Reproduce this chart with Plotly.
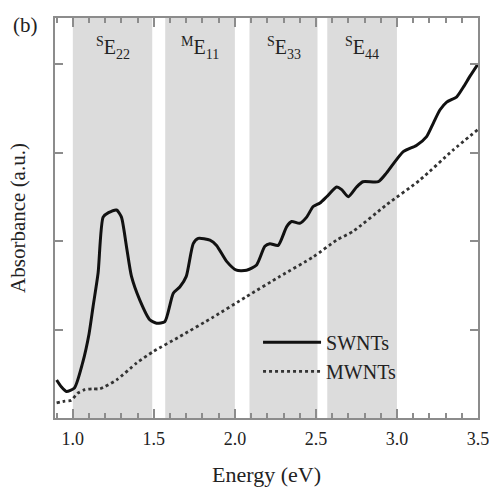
import plotly.graph_objects as go

# SWNT absorbance (a.u.)
swnt_x = [0.90, 0.93, 0.96, 1.01, 1.06, 1.10, 1.125, 1.156, 1.187, 1.22, 1.27, 1.30, 1.33, 1.362,
          1.414, 1.475, 1.517, 1.568, 1.62, 1.66, 1.70, 1.743, 1.774, 1.846, 1.887, 1.949, 2.01,
          2.072, 2.134, 2.185, 2.216, 2.267, 2.319, 2.35, 2.40, 2.443, 2.483, 2.525, 2.566, 2.628,
          2.659, 2.70, 2.751, 2.79, 2.885, 2.936, 3.039, 3.12, 3.183, 3.224, 3.265, 3.307, 3.369,
          3.41, 3.45, 3.50]
swnt_y = [0.43, 0.35, 0.30, 0.34, 0.62, 0.95, 1.26, 1.64, 2.27, 2.32, 2.35, 2.27, 1.95, 1.60,
          1.33, 1.11, 1.07, 1.09, 1.41, 1.48, 1.60, 1.97, 2.03, 2.01, 1.95, 1.77, 1.67,
          1.67, 1.73, 1.94, 1.97, 1.95, 2.16, 2.22, 2.20, 2.27, 2.39, 2.43, 2.50, 2.61,
          2.58, 2.50, 2.61, 2.67, 2.67, 2.77, 3.01, 3.08, 3.18, 3.33, 3.48, 3.57, 3.63,
          3.74, 3.86, 4.00]

# MWNT absorbance (a.u.)
mwnt_x = [0.90, 0.95, 0.99, 1.03, 1.074, 1.12, 1.167, 1.27, 1.393, 1.496, 1.66, 1.866, 2.07,
          2.278, 2.483, 2.628, 2.73, 2.936, 3.142, 3.348, 3.50]
mwnt_y = [0.17, 0.19, 0.20, 0.28, 0.32, 0.33, 0.33, 0.43, 0.62, 0.75, 0.92, 1.14, 1.37,
          1.60, 1.82, 2.01, 2.11, 2.41, 2.69, 3.03, 3.26]

# transition bands (eV) and labels
band_start = [1.00, 1.57, 2.09, 2.57]
band_end = [1.49, 2.00, 2.51, 3.00]
band_labels = ["<sup>S</sup>E<sub>22</sub>", "<sup>M</sup>E<sub>11</sub>",
               "<sup>S</sup>E<sub>33</sub>", "<sup>S</sup>E<sub>44</sub>"]

x_ticks = [1.0, 1.5, 2.0, 2.5, 3.0, 3.5]
x_tick_text = ["1.0", "1.5", "2.0", "2.5", "3.0", "3.5"]
y_ticks = [1, 2, 3, 4]

FONT = "'Liberation Serif', 'Times New Roman', Times, serif"
TXT = "#222222"
AX = "#8c8c8c"

fig = go.Figure()
fig.add_trace(go.Scatter(x=swnt_x, y=swnt_y, mode="lines", name="SWNTs",
                         line=dict(color="#111111", width=3, shape="spline", smoothing=0.6)))
fig.add_trace(go.Scatter(x=mwnt_x, y=mwnt_y, mode="lines", name="MWNTs",
                         line=dict(color="#333333", width=2.8, dash="dot", shape="spline", smoothing=0.6)))

for s, e, lab in zip(band_start, band_end, band_labels):
    fig.add_shape(type="rect", xref="x", yref="paper", x0=s, x1=e, y0=0, y1=1,
                  fillcolor="#dcdcdc", line=dict(width=0), layer="below")
    fig.add_annotation(x=(s + e) / 2, y=0.965, xref="x", yref="paper", text=lab,
                       showarrow=False, font=dict(family=FONT, size=20, color=TXT))

fig.add_annotation(x=-0.035, y=0.983, xref="paper", yref="paper", text="(b)", showarrow=False,
                   xanchor="right", yanchor="middle", font=dict(family=FONT, size=21, color=TXT))

fig.update_layout(
    width=489, height=487,
    margin=dict(l=55, r=11, t=18, b=69, autoexpand=False),
    plot_bgcolor="white", paper_bgcolor="white",
    font=dict(family=FONT, size=18, color=TXT),
    showlegend=True,
    legend=dict(x=0.48, y=0.238, xanchor="left", yanchor="top", bgcolor="rgba(0,0,0,0)",
                font=dict(family=FONT, size=20, color=TXT), tracegroupgap=0, itemwidth=58),
    xaxis=dict(range=[0.89, 3.5002], tickvals=x_ticks, ticktext=x_tick_text, ticks="inside",
               ticklen=9, tickwidth=1.5, tickcolor=AX, showline=True, linecolor=AX, linewidth=2,
               mirror="allticks", showgrid=False, zeroline=False, automargin=False,
               ticklabelstandoff=3, ticklabeloverflow="allow",
               minor=dict(dtick=0.1, ticks="inside", ticklen=5, tickcolor=AX, tickwidth=1.5),
               title=dict(text="Energy (eV)", font=dict(family=FONT, size=22, color=TXT), standoff=20),
               tickfont=dict(family=FONT, size=18, color=TXT)),
    yaxis=dict(range=[0, 4.52], tickvals=y_ticks, showticklabels=False, ticks="inside",
               ticklen=8, tickwidth=1.5, tickcolor=AX, showline=True, linecolor=AX, linewidth=2,
               mirror="allticks", showgrid=False, zeroline=False, automargin=False,
               title=dict(text="Absorbance (a.u.)", font=dict(family=FONT, size=21, color=TXT), standoff=22)),
)

fig.write_html("out.html", config={"displayModeBar": False},
               post_script="document.body.style.margin='0';")
